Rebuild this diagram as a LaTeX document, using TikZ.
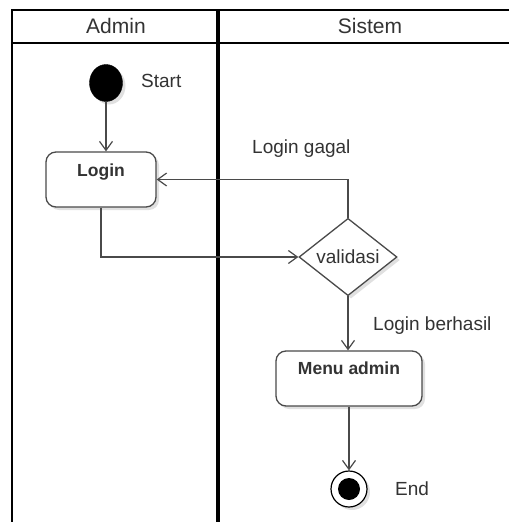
\documentclass[tikz,border=0pt]{standalone}
\usepackage{fontspec}
\setmainfont{Liberation Sans}
\usetikzlibrary{arrows.meta,shapes.geometric,shadows}

\definecolor{edge}{HTML}{4A4A4A}
\definecolor{ink}{HTML}{333333}

\tikzset{
  lbl/.style={text=ink, inner sep=0pt, font=\fontsize{19}{22}\selectfont},
  hdr/.style={text=ink, inner sep=0pt, font=\fontsize{21}{24}\selectfont},
  boldlbl/.style={text=ink, inner sep=0pt, font=\fontsize{17.5}{21}\selectfont\bfseries},
  softshadow/.style={drop shadow={shadow xshift=3pt, shadow yshift=-3pt, opacity=0.12, fill=black}},
  actbox/.style={draw=edge, line width=1.3pt, rounded corners=10pt, fill=white,
                 inner sep=0pt, softshadow},
  decision/.style={diamond, draw=edge, line width=1.3pt, fill=white, inner sep=0pt,
                   minimum width=98pt, minimum height=77pt, softshadow, text=ink,
                   font=\fontsize{19}{22}\selectfont},
  flow/.style={draw=edge, line width=1.2pt, -{Straight Barb[length=9pt,width=13pt]}},
  lane/.style={draw=black, line width=2.5pt},
}

\begin{document}
\begin{tikzpicture}[x=1pt, y=-1pt]
  \useasboundingbox[fill=white] (0,0) rectangle (509,522);

  % swimlane frame
  \draw[lane] (509,10) -- (12,10) -- (12,522);
  \draw[draw=black, line width=2pt] (12,43) -- (509,43);
  \draw[draw=black, line width=4pt] (218,10) -- (218,522);
  \node[hdr, anchor=base] (hadmin) at (116,33) {Admin};
  \node[hdr, anchor=base] (hsistem) at (370,33) {Sistem};

  % initial node
  \node[ellipse, fill=black, draw=black, minimum width=33pt, minimum height=37pt,
        inner sep=0pt, softshadow] (start) at (106,83) {};
  \node[lbl, anchor=base west] (tstart) at (141,87) {Start};

  % Login action
  \node[actbox, minimum width=110pt, minimum height=55pt] (login) at (101,179.5) {};
  \node[boldlbl, anchor=base] (tlogin) at (101,176) {Login};

  % decision
  \node[decision] (dia) at (348,257) {validasi};

  % Menu admin action
  \node[actbox, minimum width=146pt, minimum height=55pt] (menu) at (349,378.5) {};
  \node[boldlbl, anchor=base] (tmenu) at (349,374) {Menu admin};

  % final node
  \node[circle, draw=black, line width=1.2pt, fill=white, minimum size=36pt,
        inner sep=0pt, softshadow] (end) at (349,489) {};
  \node[circle, fill=black, minimum size=22pt, inner sep=0pt] (endin) at (end.center) {};
  \node[lbl, anchor=base west] (tend) at (395,495) {End};

  % flows
  \draw[flow] (start.south) -- (start.south |- login.north);
  \draw[flow] (login.south) |- (dia.west);
  \draw[flow] (dia.north) |- (login.east);
  \node[lbl, anchor=base west] (tgagal) at (252,153) {Login gagal};
  \draw[flow] (dia.south) -- (dia.south |- menu.north);
  \node[lbl, anchor=base west] (tberhasil) at (373,330) {Login berhasil};
  \draw[flow] (menu.south) -- (end.north);
\end{tikzpicture}
\end{document}
